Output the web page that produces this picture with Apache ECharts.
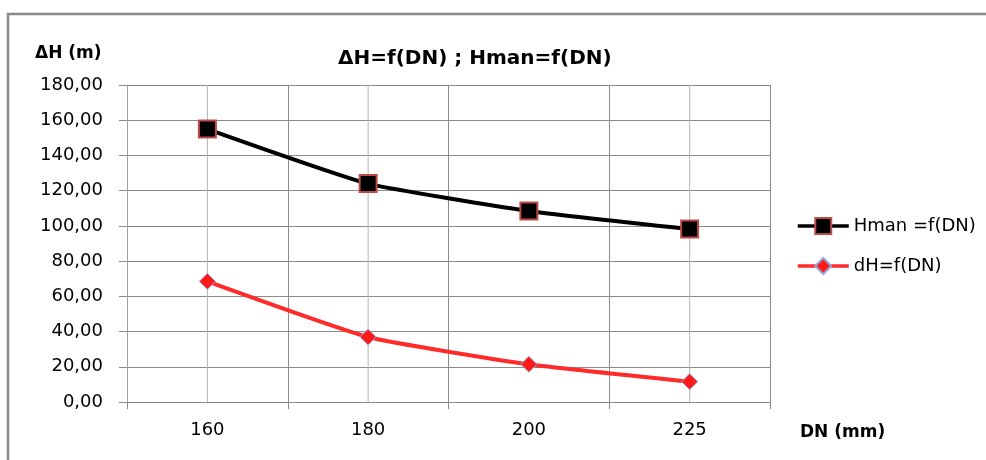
<!DOCTYPE html>
<html>
<head>
<meta charset="utf-8">
<script src="https://cdn.jsdelivr.net/npm/echarts@6/dist/echarts.min.js"></script>
<style>
html,body{margin:0;padding:0;background:#fff;}
#chart{width:986px;height:460px;}
</style>
</head>
<body>
<div id="chart"></div>
<script>
const categories = ['160', '180', '200', '225'];
const hmanValues = [155, 124, 108.5, 98.2];
const dhValues = [68.5, 36.9, 21.4, 11.5];
const centerLines = ['160', '180', '225'];
const yMin = 0, yMax = 180, yStep = 20;

const guideData = categories.map(c => centerLines.includes(c) ? yMax : '-');

const chart = echarts.init(document.getElementById('chart'));
const FONT = 'DejaVu Sans';
chart.setOption({
  animation: false,
  backgroundColor: '#fff',
  title: {
    text: 'ΔH=f(DN) ; Hman=f(DN)',
    left: 333, top: 44,
    textStyle: {fontFamily: FONT, fontWeight: 'bold', fontSize: 20, color: '#000'}
  },
  graphic: [
    {type: 'rect', shape: {x: 8, y: 14, width: 1000, height: 480},
     style: {fill: 'none', stroke: '#8a8a8a', lineWidth: 2.5}, silent: true},
    {type: 'text', left: 35, top: 45,
     style: {text: 'ΔH (m)', font: 'bold 17px "DejaVu Sans"', fill: '#000'}},
    {type: 'text', left: 800, top: 424,
     style: {text: 'DN (mm)', font: 'bold 17px "DejaVu Sans"', fill: '#000'}}
  ],
  legend: {
    data: [
      {name: 'Hman =f(DN)', lineStyle: {width: 3.5}},
      {name: 'dH=f(DN)', lineStyle: {width: 3.5}}
    ],
    orient: 'vertical',
    left: 791, top: 212,
    itemWidth: 51, itemHeight: 20, itemGap: 22,
    textStyle: {fontFamily: FONT, fontSize: 18, color: '#000'}
  },
  grid: {left: 127, right: 216, top: 85, bottom: 58},
  xAxis: {
    type: 'category',
    data: categories,
    boundaryGap: true,
    axisLine: {lineStyle: {color: '#8c8c8c', width: 1}},
    axisTick: {show: true, length: 7, lineStyle: {color: '#8c8c8c'}},
    axisLabel: {fontFamily: FONT, fontSize: 18, color: '#000', margin: 19},
    splitLine: {show: true, lineStyle: {color: '#8c8c8c', width: 1}}
  },
  yAxis: {
    type: 'value',
    min: yMin, max: yMax, interval: yStep,
    axisLine: {show: true, lineStyle: {color: '#a0a0a0', width: 1}},
    axisTick: {show: true, length: 8, lineStyle: {color: '#8c8c8c'}},
    axisLabel: {fontFamily: FONT, fontSize: 18, color: '#000', margin: 24,
      formatter: v => v.toFixed(2).replace('.', ',')},
    splitLine: {show: true, lineStyle: {color: '#8c8c8c', width: 1}}
  },
  series: [
    {
      type: 'bar', name: 'guides', data: guideData, z: 1, silent: true,
      barWidth: 1, itemStyle: {color: '#b4b4b4'}
    },
    {
      type: 'line', name: 'Hman =f(DN)', data: hmanValues,
      smooth: 0.15, z: 3,
      symbol: 'rect', symbolSize: 17,
      lineStyle: {color: '#000', width: 4},
      itemStyle: {color: '#000', borderColor: '#be4b48', borderWidth: 2}
    },
    {
      type: 'line', name: 'dH=f(DN)', data: dhValues,
      smooth: 0.15, z: 4,
      symbol: 'diamond', symbolSize: 16,
      lineStyle: {color: '#ff2a2a', width: 4},
      itemStyle: {color: '#ff1a1a', borderColor: '#8fa8d8', borderWidth: 1}
    }
  ]
});
</script>
</body>
</html>
